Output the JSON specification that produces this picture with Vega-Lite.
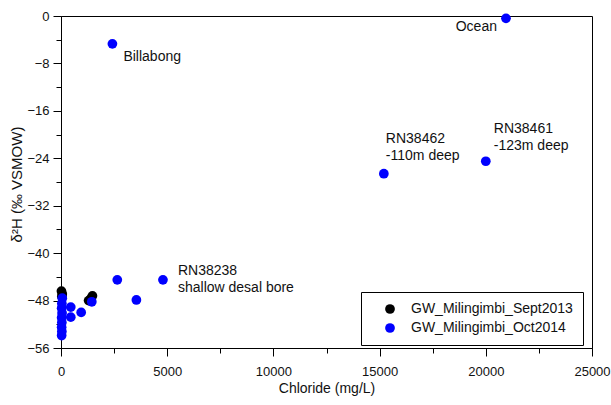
{
  "$schema": "https://vega.github.io/schema/vega-lite/v6.json",
  "width": 531,
  "height": 332,
  "autosize": {"type": "none"},
  "padding": {"left": 61, "top": 16, "right": 19, "bottom": 57},
  "background": "white",
  "config": {
    "view": {"stroke": "black", "strokeWidth": 1},
    "font": "Liberation Sans",
    "axis": {
      "domainColor": "black",
      "tickColor": "black",
      "labelColor": "#111111",
      "titleColor": "#111111",
      "labelFont": "Liberation Sans",
      "titleFont": "Liberation Sans",
      "labelFontSize": 13,
      "titleFontSize": 14,
      "titleFontWeight": "normal",
      "grid": false
    }
  },
  "datasets": {
    "pts": [
      {"series": "GW_Milingimbi_Sept2013", "chloride": 20, "d2H": -46.4},
      {"series": "GW_Milingimbi_Sept2013", "chloride": 60, "d2H": -46.9},
      {"series": "GW_Milingimbi_Sept2013", "chloride": 40, "d2H": -47.3},
      {"series": "GW_Milingimbi_Sept2013", "chloride": 1300, "d2H": -48.0},
      {"series": "GW_Milingimbi_Sept2013", "chloride": 1420, "d2H": -47.6},
      {"series": "GW_Milingimbi_Sept2013", "chloride": 1480, "d2H": -47.2},
      {"series": "GW_Milingimbi_Oct2014", "chloride": 60, "d2H": -47.6},
      {"series": "GW_Milingimbi_Oct2014", "chloride": 40, "d2H": -48.5},
      {"series": "GW_Milingimbi_Oct2014", "chloride": 30, "d2H": -49.3},
      {"series": "GW_Milingimbi_Oct2014", "chloride": 50, "d2H": -50.1},
      {"series": "GW_Milingimbi_Oct2014", "chloride": 30, "d2H": -50.9},
      {"series": "GW_Milingimbi_Oct2014", "chloride": 40, "d2H": -51.7},
      {"series": "GW_Milingimbi_Oct2014", "chloride": 30, "d2H": -52.5},
      {"series": "GW_Milingimbi_Oct2014", "chloride": 40, "d2H": -53.2},
      {"series": "GW_Milingimbi_Oct2014", "chloride": 30, "d2H": -53.9},
      {"series": "GW_Milingimbi_Oct2014", "chloride": 460, "d2H": -49.1},
      {"series": "GW_Milingimbi_Oct2014", "chloride": 460, "d2H": -50.8},
      {"series": "GW_Milingimbi_Oct2014", "chloride": 950, "d2H": -50.0},
      {"series": "GW_Milingimbi_Oct2014", "chloride": 1450, "d2H": -48.2},
      {"series": "GW_Milingimbi_Oct2014", "chloride": 2650, "d2H": -44.5},
      {"series": "GW_Milingimbi_Oct2014", "chloride": 3550, "d2H": -47.9},
      {"series": "GW_Milingimbi_Oct2014", "chloride": 4800, "d2H": -44.5},
      {"series": "GW_Milingimbi_Oct2014", "chloride": 2420, "d2H": -4.7},
      {"series": "GW_Milingimbi_Oct2014", "chloride": 15200, "d2H": -26.6},
      {"series": "GW_Milingimbi_Oct2014", "chloride": 20000, "d2H": -24.5},
      {"series": "GW_Milingimbi_Oct2014", "chloride": 20950, "d2H": -0.4}
    ],
    "labels": [
      {"name": "Billabong", "text": "Billabong", "chloride": 2420, "d2H": -4.7},
      {"name": "Ocean", "text": "Ocean", "chloride": 20950, "d2H": -0.4},
      {"name": "RN38462", "text": "RN38462\n-110m deep", "chloride": 15200, "d2H": -26.6},
      {"name": "RN38461", "text": "RN38461\n-123m deep", "chloride": 20000, "d2H": -24.5},
      {"name": "RN38238", "text": "RN38238\nshallow desal bore", "chloride": 4800, "d2H": -44.5}
    ]
  },
  "encoding": {
    "x": {
      "field": "chloride",
      "type": "quantitative",
      "scale": {"domain": [0, 25000], "nice": false, "zero": false},
      "axis": {
        "title": "Chloride (mg/L)",
        "values": [0, 2500, 5000, 7500, 10000, 12500, 15000, 17500, 20000, 22500, 25000],
        "format": "d",
        "labelExpr": "datum.value % 5000 === 0 ? datum.label : ''",
        "tickSize": {"condition": {"test": "datum.value % 5000 === 0", "value": 8}, "value": 5},
        "labelPadding": 9,
        "titlePadding": 3,
        "labelFlush": false,
        "labelOverlap": false
      }
    },
    "y": {
      "field": "d2H",
      "type": "quantitative",
      "scale": {"domain": [-56, 0], "nice": false, "zero": false},
      "axis": {
        "title": "δ²H (‰ VSMOW)",
        "titleFontSize": 15,
        "values": [-56, -52, -48, -44, -40, -36, -32, -28, -24, -20, -16, -12, -8, -4, 0],
        "labelExpr": "datum.value % 8 === 0 ? datum.label : ''",
        "tickSize": {"condition": {"test": "datum.value % 8 === 0", "value": 8}, "value": 5},
        "labelPadding": 4,
        "titleX": -45,
        "titleY": 168,
        "titleAngle": -90,
        "titleBaseline": "middle",
        "titleAlign": "center",
        "labelFlush": false,
        "labelOverlap": false
      }
    }
  },
  "layer": [
    {
      "data": {"name": "pts"},
      "mark": {"type": "circle", "size": 95, "opacity": 1},
      "encoding": {
        "color": {
          "field": "series",
          "type": "nominal",
          "scale": {"domain": ["GW_Milingimbi_Sept2013", "GW_Milingimbi_Oct2014"], "range": ["black", "#0000ff"]},
          "legend": {
            "title": null,
            "orient": "none",
            "legendX": 300,
            "legendY": 276,
            "strokeColor": "black",
            "fillColor": "white",
            "padding": 10,
            "symbolOffset": 12,
            "symbolSize": 95,
            "symbolType": "circle",
            "symbolStrokeWidth": 0,
            "labelFontSize": 14,
            "labelFont": "Liberation Sans",
            "labelColor": "#111111",
            "labelLimit": 0,
            "labelOffset": 14,
            "rowPadding": 5
          }
        }
      }
    },
    {
      "data": {"name": "labels"},
      "transform": [{"filter": "datum.name === 'Billabong'"}],
      "mark": {"type": "text", "align": "left", "baseline": "middle", "dx": 11, "dy": 13, "fontSize": 14, "color": "#111111"},
      "encoding": {"text": {"field": "text"}}
    },
    {
      "data": {"name": "labels"},
      "transform": [{"filter": "datum.name === 'Ocean'"}],
      "mark": {"type": "text", "align": "right", "baseline": "middle", "dx": -9, "dy": 9, "fontSize": 14, "color": "#111111"},
      "encoding": {"text": {"field": "text"}}
    },
    {
      "data": {"name": "labels"},
      "transform": [{"filter": "datum.name === 'RN38462'"}],
      "mark": {"type": "text", "align": "left", "baseline": "top", "lineBreak": "\n", "lineHeight": 17, "dx": 2, "dy": -42, "fontSize": 14, "color": "#111111"},
      "encoding": {"text": {"field": "text"}}
    },
    {
      "data": {"name": "labels"},
      "transform": [{"filter": "datum.name === 'RN38461'"}],
      "mark": {"type": "text", "align": "left", "baseline": "top", "lineBreak": "\n", "lineHeight": 17, "dx": 8, "dy": -39, "fontSize": 14, "color": "#111111"},
      "encoding": {"text": {"field": "text"}}
    },
    {
      "data": {"name": "labels"},
      "transform": [{"filter": "datum.name === 'RN38238'"}],
      "mark": {"type": "text", "align": "left", "baseline": "top", "lineBreak": "\n", "lineHeight": 17, "dx": 15, "dy": -16, "fontSize": 14, "color": "#111111"},
      "encoding": {"text": {"field": "text"}}
    }
  ]
}
